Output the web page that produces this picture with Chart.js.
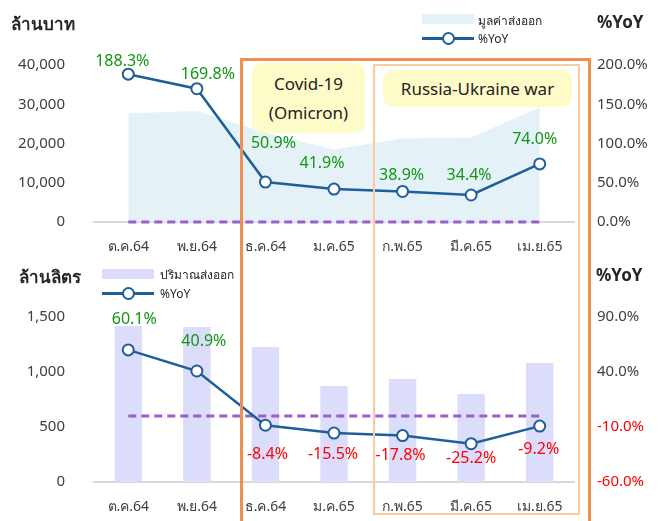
<!DOCTYPE html>
<html>
<head>
<meta charset="utf-8">
<script src="https://cdn.jsdelivr.net/npm/chart.js@4.4.1/dist/chart.umd.min.js"></script>
<style>
  body { margin: 0; background: #fff; font-family: 'Noto Sans', Tahoma, sans-serif; color: #262626; }
  #wrap { position: relative; width: 663px; height: 521px; overflow: hidden; }
  canvas { position: absolute; left: 0; }
  .abs { position: absolute; white-space: nowrap; }
  .title { font-weight: bold; font-size: 17px; }
  .legend { font-size: 12px; }
  .swatch { position: absolute; width: 52px; height: 10px; }
  .lgline { position: absolute; width: 52px; height: 2.5px; background: #1f5f97; }
  .lgdot { position: absolute; width: 9px; height: 9px; border: 2px solid #1f5f97; background: #fff; border-radius: 50%; }
  .note { position: absolute; background: #fdfbc8; border-radius: 10px; font-size: 17px; text-align: center; color: #222; }
  .frame { position: absolute; pointer-events: none; box-sizing: border-box; }
</style>
</head>
<body>
<div id="wrap">
  <canvas id="valueChart" width="663" height="260" style="top:0"></canvas>
  <canvas id="volumeChart" width="663" height="261" style="top:260px"></canvas>

  <div class="abs title" style="left:11px; top:10px;">ล้านบาท</div>
  <div class="abs title" style="left:597px; top:10px;">%YoY</div>
  <div class="abs title" style="left:19px; top:263px;">ล้านลิตร</div>
  <div class="abs title" style="left:596px; top:263px;">%YoY</div>

  <!-- top legend -->
  <div class="swatch" style="left:422px; top:14px; background:#e4f2f8;"></div>
  <div class="abs legend" style="left:478px; top:11px;">มูลค่าส่งออก</div>
  <div class="lgline" style="left:422px; top:37px;"></div>
  <div class="lgdot" style="left:442px; top:32px;"></div>
  <div class="abs legend" style="left:478px; top:30px;">%YoY</div>

  <!-- bottom legend -->
  <div class="swatch" style="left:102px; top:269px; background:#dcdcfb;"></div>
  <div class="abs legend" style="left:160px; top:265px;">ปริมาณส่งออก</div>
  <div class="lgline" style="left:102px; top:292px;"></div>
  <div class="lgdot" style="left:122px; top:287px;"></div>
  <div class="abs legend" style="left:160px; top:285px;">%YoY</div>

  <!-- event frames -->
  <div class="frame" style="left:240px; top:58px; width:351px; height:480px; border:3px solid #ef8f50;"></div>
  <div class="frame" style="left:373px; top:64px; width:207px; height:451px; border:2.5px solid #fdcaa0;"></div>
  <div class="note" style="left:252px; top:63px; width:113px; height:70px; line-height:29px; padding-top:6px; box-sizing:border-box;">Covid-19<br>(Omicron)</div>
  <div class="note" style="left:383px; top:70px; width:189px; height:37px; line-height:37px;">Russia-Ukraine war</div>
</div>

<script>
const months = ['ต.ค.64', 'พ.ย.64', 'ธ.ค.64', 'ม.ค.65', 'ก.พ.65', 'มี.ค.65', 'เม.ย.65'];
const exportValue = [27700, 28250, 22750, 18500, 21250, 21500, 29250];   // ล้านบาท
const valueYoY = [188.3, 169.8, 50.9, 41.9, 38.9, 34.4, 74.0];
const exportVolume = [1418, 1409, 1227, 873, 936, 800, 1082];            // ล้านลิตร
const volumeYoY = [60.1, 40.9, -8.4, -15.5, -17.8, -25.2, -9.2];
const zeroRef = [0, 0, 0, 0, 0, 0, 0];

// label nudges (dx, dy from the point), hand placed like the original
const topNudge = [[-6, -13], [11, -14], [8, -39], [-12, -26], [-1, -16], [-2, -20], [-5, -24]];
const bottomNudge = [[6, -30], [7, -30], [2, 29], [-1, 21], [-2, 20], [0, 15], [-1, 23]];

const lineBlue = '#1f5f97';
const tickColor = '#404040';
Chart.defaults.font.family = "'Noto Sans', Tahoma, sans-serif";
Chart.defaults.font.size = 15;
Chart.defaults.color = tickColor;

const pct = v => v.toFixed(1) + '%';

// draws the %YoY numbers next to each point
function yoyLabels(nudge) {
  return {
    id: 'yoyLabels',
    afterDatasetsDraw(chart) {
      const ctx = chart.ctx;
      const meta = chart.getDatasetMeta(0);
      const values = chart.data.datasets[0].data;
      ctx.save();
      ctx.font = "16px 'Noto Sans', Tahoma, sans-serif";
      ctx.textAlign = 'center';
      ctx.textBaseline = 'middle';
      meta.data.forEach((pt, i) => {
        ctx.fillStyle = values[i] < 0 ? '#ff0000' : '#129612';
        ctx.fillText(pct(values[i]), pt.x + nudge[i][0], pt.y + nudge[i][1]);
      });
      ctx.restore();
    }
  };
}

const yoyLine = data => ({
  type: 'line',
  data: data,
  yAxisID: 'y1',
  borderColor: lineBlue,
  borderWidth: 2.5,
  pointRadius: 5.5,
  pointBorderWidth: 2,
  pointBackgroundColor: '#fff',
  pointBorderColor: lineBlue,
  tension: 0,
  order: 0
});

const zeroLine = {
  type: 'line',
  data: zeroRef,
  yAxisID: 'y1',
  borderColor: '#9a5fcc',
  borderWidth: 3,
  borderDash: [8, 5],
  pointRadius: 0,
  clip: false,
  order: 1
};

function xAxis(height, pad) {
  return {
    offset: true,
    grid: { display: true, color: 'rgba(0,0,0,0)', drawTicks: false },
    border: { display: true, color: '#d9d9d9', width: 2 },
    ticks: { padding: pad, font: { size: 14 }, color: tickColor },
    afterFit: s => { s.height = height; }
  };
}

function yAxis(pos, min, max, step, fmt) {
  return {
    position: pos,
    min: min, max: max,
    grid: { display: false, drawTicks: false },
    border: { display: false },
    ticks: {
      stepSize: step,
      padding: pos === 'left' ? 29 : 23,
      callback: fmt,
      color: ctx => ctx.tick.value < 0 ? '#ff0000' : tickColor
    },
    afterFit: s => { s.width = pos === 'left' ? 94 : 89; }
  };
}

new Chart(document.getElementById('valueChart'), {
  type: 'line',
  data: {
    labels: months,
    datasets: [
      yoyLine(valueYoY),
      zeroLine,
      {
        data: exportValue,
        yAxisID: 'y',
        fill: 'origin',
        backgroundColor: '#e4f2f8',
        borderWidth: 0,
        pointRadius: 0,
        tension: 0,
        order: 2
      }
    ]
  },
  options: {
    responsive: false,
    animation: false,
    layout: { padding: { top: 65, left: 0, right: 0, bottom: 0 } },
    plugins: { legend: { display: false }, tooltip: { enabled: false } },
    scales: {
      x: xAxis(34, 17),
      y: yAxis('left', 0, 40000, 10000, v => v.toLocaleString('en-US')),
      y1: yAxis('right', 0, 200, 50, v => pct(v))
    }
  },
  plugins: [yoyLabels(topNudge)]
});

new Chart(document.getElementById('volumeChart'), {
  type: 'bar',
  data: {
    labels: months,
    datasets: [
      yoyLine(volumeYoY),
      zeroLine,
      {
        type: 'bar',
        data: exportVolume,
        yAxisID: 'y',
        backgroundColor: '#dcdcfb',
        categoryPercentage: 1,
        barPercentage: 0.4,
        order: 2
      }
    ]
  },
  options: {
    responsive: false,
    animation: false,
    layout: { padding: { top: 57, left: 0, right: 0, bottom: 0 } },
    plugins: { legend: { display: false }, tooltip: { enabled: false } },
    scales: {
      x: xAxis(39, 17),
      y: yAxis('left', 0, 1500, 500, v => v.toLocaleString('en-US')),
      y1: yAxis('right', -60, 90, 50, v => pct(v))
    }
  },
  plugins: [yoyLabels(bottomNudge)]
});
</script>
</body>
</html>
